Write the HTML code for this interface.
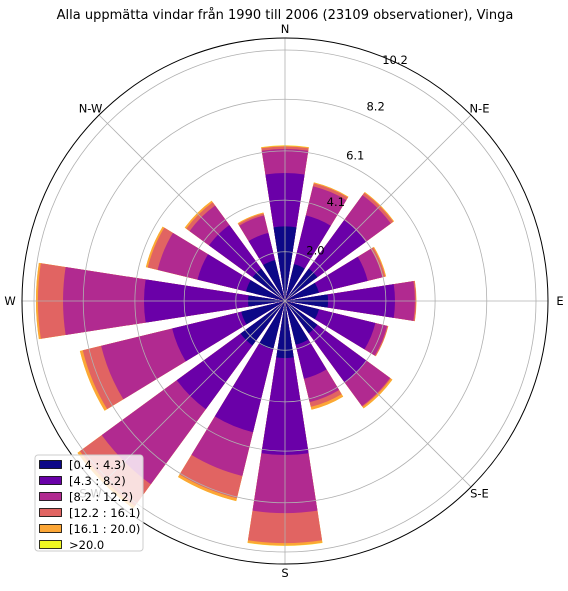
<!DOCTYPE html>
<html><head><meta charset="utf-8"><style>
body{margin:0;background:#fff;width:568px;height:586px;overflow:hidden;font-family:"Liberation Sans","DejaVu Sans",sans-serif}
svg text{font-family:"DejaVu Sans","Liberation Sans",sans-serif}
</style></head><body>
<svg id="chart" width="568" height="586" xmlns="http://www.w3.org/2000/svg">
<text x="285" y="19" font-size="13" text-anchor="middle">Alla uppmätta vindar från 1990 till 2006 (23109 observationer), Vinga</text>
<g id="bars"></g>
<g id="grid"></g>
<g id="legend"></g>
</svg>
<script>
const directions = ["N","NNE","NE","ENE","E","ESE","SE","SSE","S","SSW","SW","WSW","W","WNW","NW","NNW"];
const binLabels = ["[0.4 : 4.3)","[4.3 : 8.2)","[8.2 : 12.2)","[12.2 : 16.1)","[16.1 : 20.0)",">20.0"];
const bin1 = [3.03,1.54,1.63,1.42,1.75,1.42,1.63,1.83,2.32,2.03,2.24,1.83,1.50,1.63,1.63,1.71];
const bin2 = [2.17,2.04,2.44,2.04,2.72,2.36,2.48,1.42,3.94,3.46,3.21,2.89,4.23,2.03,2.20,1.14];
const bin3 = [0.98,1.22,1.26,0.61,0.81,0.49,1.18,0.98,2.36,1.83,3.78,2.97,3.29,1.67,0.98,0.73];
const bin4 = [0.10,0.12,0.12,0.12,0.05,0.04,0.04,0.20,1.22,0.93,1.10,0.77,1.02,0.41,0.16,0.08];
const bin5 = [0.04,0.04,0.04,0.04,0.01,0.01,0.08,0.12,0.10,0.12,0.12,0.12,0.08,0.08,0.08,0.04];
const bin6 = [0.01,0,0,0,0,0,0,0,0.01,0,0,0,0,0,0,0];
const radialTicks = [2.0,4.1,6.1,8.2,10.2];
const compassLabels = ["N","N-E","E","S-E","S","S-W","W","N-W"];

const NS="http://www.w3.org/2000/svg";
const cx=285, cy=301, rOuter=263, pxPerUnit=251/10.2;
const colors=["#0d0887","#6a00a8","#b12a90","#e16462","#fca636","#f0f921"];
function rScale(v){return v*pxPerUnit;}
function pt(r,degFromN){const a=degFromN*Math.PI/180;return [cx+r*Math.sin(a), cy-r*Math.cos(a)];}
function mk(tag,attrs,parent){const e=document.createElementNS(NS,tag);for(const k in attrs)e.setAttribute(k,attrs[k]);parent.appendChild(e);return e;}

const bins=[bin1,bin2,bin3,bin4,bin5,bin6];
const barsG=document.getElementById('bars');
const half=8.8;
directions.forEach((d,i)=>{
  const ang=i*22.5;
  const cum=[];let s=0;
  bins.forEach(b=>{s+=b[i];cum.push(s);});
  for(let k=bins.length-1;k>=0;k--){
    const r=rScale(cum[k]);
    if(r<=0)continue;
    const p1=pt(r,ang-half), p2=pt(r,ang+half);
    const path=mk('path',{d:`M${cx},${cy} L${p1[0]},${p1[1]} A${r},${r} 0 0 1 ${p2[0]},${p2[1]} Z`,fill:colors[k]},barsG);
    
    
  }
});

const gridG=document.getElementById('grid');
radialTicks.forEach(t=>{
  const c=mk('circle',{cx:cx,cy:cy,r:rScale(t),fill:'none',stroke:'#b0b0b0','stroke-width':0.8},gridG);
  
  
  const f=t/10.2;
  const p=pt(rScale(t),22.5);
  const tx=mk('text',{x:p[0]+11+3*f,y:p[1]-5*f,'font-size':11.5,'text-anchor':'middle'},gridG);
  tx.textContent=t.toFixed(1);
  
  
});
compassLabels.forEach((lab,i)=>{
  const ang=i*45;
  const p=pt(rOuter,ang);
  const ln=mk('line',{x1:cx,y1:cy,x2:p[0],y2:p[1],stroke:'#b0b0b0','stroke-width':0.8},gridG);
  
  
  const q=pt(rOuter+9,ang);
  const tx=mk('text',{x:q[0]+Math.sin(ang*Math.PI/180)*3,y:q[1]+4,'font-size':11.5,'text-anchor':'middle',fill:'#000'},gridG);
  tx.textContent=lab;
  
  
});
const outer=mk('circle',{cx:cx,cy:cy,r:rOuter,fill:'none',stroke:'#000','stroke-width':1},gridG);



const legG=document.getElementById('legend');
const box=mk('rect',{x:35,y:455,width:108,height:96,rx:3,fill:'#fff','fill-opacity':0.8,stroke:'#ccc','stroke-width':1},legG);


binLabels.forEach((lab,k)=>{
  const y=460+k*16;
  const r=mk('rect',{x:39.5,y:y+0.5,width:22,height:8,fill:colors[k],stroke:'#000','stroke-width':0.8},legG);
  
  
  const t=mk('text',{x:69,y:y+9,'font-size':11.5},legG);
  t.textContent=lab;
  
  
});
</script>
</body></html>
